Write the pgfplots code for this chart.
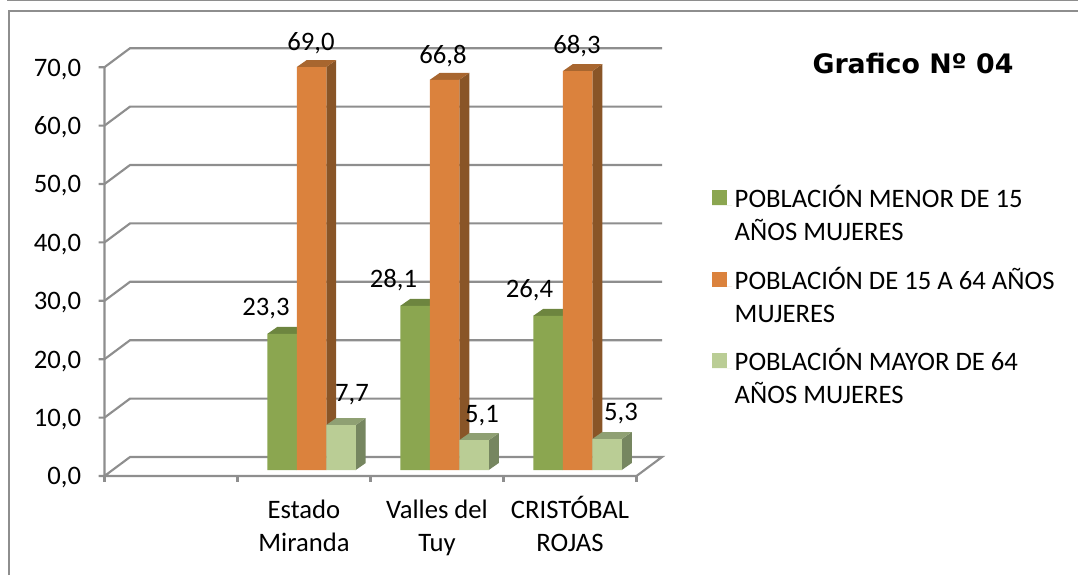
\documentclass[border=0pt]{standalone}
\usepackage{fontspec}
\setmainfont{Carlito}
\newfontfamily\titlefont{DejaVu Sans}
\usepackage{pgfplots}
\usepackage{pgfplotstable}
\pgfplotsset{compat=1.18}

\definecolor{verde}{HTML}{8BA650}
\definecolor{verdetop}{HTML}{6D853F}
\definecolor{verdeside}{HTML}{5F7337}
\definecolor{naranja}{HTML}{DB823D}
\definecolor{naranjatop}{HTML}{A8662F}
\definecolor{naranjaside}{HTML}{895527}
\definecolor{claro}{HTML}{BACD95}
\definecolor{clarotop}{HTML}{8FA073}
\definecolor{claroside}{HTML}{768660}
\definecolor{rejilla}{HTML}{8E8E8E}

% x  value  label offset from category centre / bar top, in px
\pgfplotstableread{
x y dx dy
1 23.3 -38.0 25.5
2 28.1 -43.5 25.5
3 26.4 -40.5 25.5
}\menor
\pgfplotstableread{
x y dx dy
1 69.0 7.0 23.5
2 66.8 6.0 23.5
3 68.3 7.0 25.5
}\medio
\pgfplotstableread{
x y dx dy
1 7.7 48.0 30.5
2 5.1 45.0 24.5
3 5.3 51.0 25.5
}\mayor

% one px is 0.75pt; 133px per category, 5.84px per unit
\newcommand\barfaces[5]{%
  \pgfmathsetmacro\xl{#1+(#3-14.75)/133}%
  \pgfmathsetmacro\xr{#1+(#3+14.75)/133}%
  \pgfmathsetmacro\xbl{\xl+10/133}%
  \pgfmathsetmacro\xbr{\xr+10/133}%
  \pgfmathsetmacro\yd{7/5.84}%
  \pgfmathsetmacro\yb{#2+\yd}%
  \edef\temp{%
    \noexpand\addplot[fill=#4,draw=none,forget plot] coordinates {(\xr,0)(\xbr,\yd)(\xbr,\yb)(\xr,#2)};
    \noexpand\addplot[fill=#5,draw=none,forget plot] coordinates {(\xl,#2)(\xr,#2)(\xbr,\yb)(\xbl,\yb)};
  }\temp
}
% gridline on the walls, v is the tick value
\newcommand\gridat[1]{%
  \pgfmathsetmacro\ya{#1-1.027}%
  \pgfmathsetmacro\yb{#1+2.226}%
  \edef\temp{\noexpand\addplot[rejilla,line width=1.6pt,forget plot] coordinates {(-0.545,\ya)(-0.5,\ya)(-0.308,\yb)(3.692,\yb)};}\temp
}

\begin{document}
\begin{tikzpicture}
\useasboundingbox (0,0) rectangle (808.5pt,431.25pt);
% frame of the page
\draw[rejilla,line width=1.5pt] (5.25pt,430.9pt) -- (808.5pt,430.9pt);
\draw[rejilla,line width=1.5pt] (7.1pt,0pt) -- (7.1pt,422.9pt) -- (808.5pt,422.9pt);
\begin{axis}[
    at={(78.375pt,78.75pt)},
    anchor=south west,
    scale only axis,
    width=399pt,
    height=306.6pt,
    xmin=-0.5, xmax=3.5,
    ymin=0, ymax=70,
    clip=false,
    axis line style={draw=none},
    major tick length=0pt,
    tick style={draw=none},
    xtick={0,1,2,3},
    xticklabels={,{\strut Estado\\Miranda},{\strut Valles del\\Tuy},{\strut CRISTÓBAL\\ROJAS}},
    ytick={0,10,...,70},
    font=\fontsize{20}{24.75}\selectfont,
    xticklabel style={align=center,anchor=north,yshift=-15.25pt},
    yticklabel style={anchor=east,xshift=-14pt,yshift=-6pt},
    /pgf/number format/.cd,assume math mode=true,use comma,fixed,fixed zerofill,precision=1,
    /pgfplots/.cd,
    title={\titlefont\bfseries Grafico Nº 04},
    title style={at={(1.5197,0.976)},anchor=center,font=\fontsize{20.1}{24}\selectfont},
    legend style={at={(1.142,0.7025)},anchor=north west,draw=none,fill=none,
      inner sep=0pt,outer sep=0pt,row sep=14.25pt,
      font=\fontsize{20}{24.75}\selectfont,
      nodes={align=left}},
    legend cell align=left,
    legend image code/.code={\path (0pt,6.8pt) -- (15pt,6.8pt);\fill[#1] (0pt,6.8pt) rectangle (11.25pt,18pt);},
    barras/.style={ybar,bar width=22.125pt,draw=none},
    rotulos/.style={forget plot,only marks,mark=none,nodes near coords,
      visualization depends on={\thisrow{dx} \as \labeldx},
      visualization depends on={\thisrow{dy} \as \labeldy},
      every node near coord/.append style={anchor=center,text=black,
        font=\fontsize{20}{24.75}\selectfont,
        xshift=\labeldx*0.75pt,yshift=\labeldy*0.75pt}},
]
% floor and walls
\gridat{10}\gridat{20}\gridat{30}\gridat{40}\gridat{50}\gridat{60}\gridat{70}
\addplot[rejilla,line width=1.6pt,forget plot] coordinates {(-0.5,68.973)(-0.5,-1.027)(-0.308,2.226)(3.692,2.226)(3.5,-1.027)(-0.545,-1.027)};
\addplot[rejilla,line width=1.6pt,forget plot] coordinates {(-0.5,-1.027)(-0.5,-2.1)};
\addplot[rejilla,line width=1.6pt,forget plot] coordinates {(0.5,-1.027)(0.5,-2.1)};
\addplot[rejilla,line width=1.6pt,forget plot] coordinates {(1.5,-1.027)(1.5,-2.1)};
\addplot[rejilla,line width=1.6pt,forget plot] coordinates {(2.5,-1.027)(2.5,-2.1)};
\addplot[rejilla,line width=1.6pt,forget plot] coordinates {(3.5,-1.027)(3.5,-2.1)};

\barfaces{1}{23.3}{-22}{verdeside}{verdetop}
\barfaces{2}{28.1}{-22}{verdeside}{verdetop}
\barfaces{3}{26.4}{-22}{verdeside}{verdetop}
\addplot[barras,fill=verde,bar shift=-16.5pt] table {\menor};
\addlegendentry{POBLACIÓN MENOR DE 15\\AÑOS MUJERES}

\barfaces{1}{69.0}{7.5}{naranjaside}{naranjatop}
\barfaces{2}{66.8}{7.5}{naranjaside}{naranjatop}
\barfaces{3}{68.3}{7.5}{naranjaside}{naranjatop}
\addplot[barras,fill=naranja,bar shift=5.625pt] table {\medio};
\addlegendentry{POBLACIÓN DE 15 A 64 AÑOS\\MUJERES}

\barfaces{1}{7.7}{37}{claroside}{clarotop}
\barfaces{2}{5.1}{37}{claroside}{clarotop}
\barfaces{3}{5.3}{37}{claroside}{clarotop}
\addplot[barras,fill=claro,bar shift=27.75pt] table {\mayor};
\addlegendentry{POBLACIÓN MAYOR DE 64\\AÑOS MUJERES}

% value labels on top of everything
\addplot[rotulos] table {\menor};
\addplot[rotulos] table {\medio};
\addplot[rotulos] table {\mayor};
\end{axis}
\end{tikzpicture}
\end{document}
